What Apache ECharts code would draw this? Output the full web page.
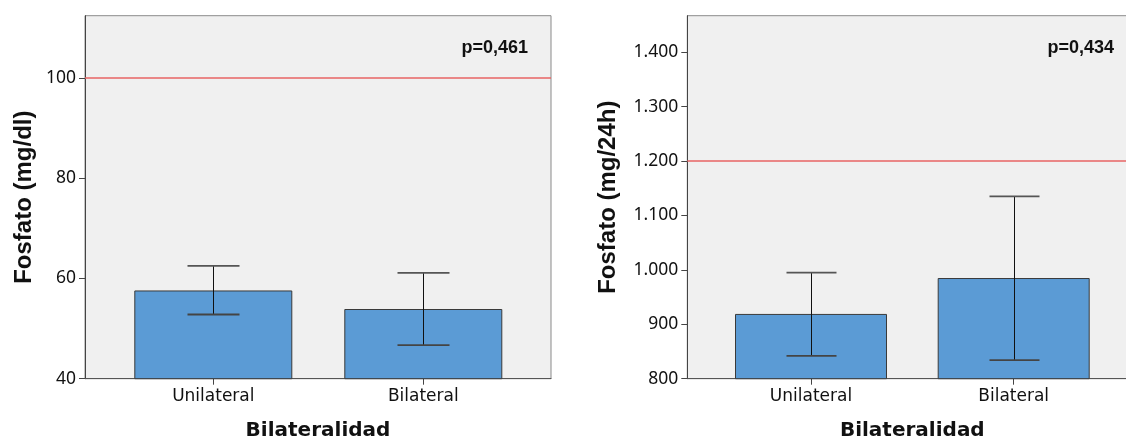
<!DOCTYPE html>
<html><head><meta charset="utf-8">
<script src="https://cdn.jsdelivr.net/npm/echarts@6/dist/echarts.min.js"></script>
<style>html,body{margin:0;padding:0;background:#fff}#c{width:1126px;height:444px}</style>
</head><body><div id="c"></div>
<script>
// ---- data ----
const categories = ['Unilateral', 'Bilateral'];
const meanSerum = [57.6, 53.9];
const lowSerum = [52.8, 46.7];
const highSerum = [62.5, 61.1];
const meanUrine = [919, 985];
const lowUrine = [842, 834];
const highUrine = [995, 1135];
const refSerum = [100];
const refUrine = [1200];
const ticksSerum = [40, 60, 80, 100];
const ticksUrine = [800, 900, 1000, 1100, 1200, 1300, 1400];
const pLabels = ['p=0,461', 'p=0,434'];
const yTitles = ['Fosfato (mg/dl)', 'Fosfato (mg/24h)'];
const xTitle = 'Bilateralidad';

// ---- styling ----
const BAR = '#5B9BD5';
const PLOT_BG = '#F0F0F0';
const TOP = 15.7, H = 363;

const chart = echarts.init(document.getElementById('c'), null, {renderer: 'canvas'});

function errItems(lo, hi) { return lo.map((v, i) => [i, v, hi[i]]); }
function makeErr(capHalf) {
  return function (params, api) {
    const x = api.value(0);
    const pLo = api.coord([x, api.value(1)]);
    const pHi = api.coord([x, api.value(2)]);
    const cx = Math.round(pLo[0]) + 0.5;
    return {
      type: 'group', children: [
        {type: 'line', shape: {x1: cx, y1: pLo[1], x2: cx, y2: pHi[1]}, style: {stroke: '#111', lineWidth: 1}},
        {type: 'line', shape: {x1: cx - capHalf, y1: pHi[1], x2: cx + capHalf, y2: pHi[1]}, style: {stroke: '#555', lineWidth: 1.8}},
        {type: 'line', shape: {x1: cx - capHalf, y1: pLo[1], x2: cx + capHalf, y2: pLo[1]}, style: {stroke: '#444', lineWidth: 1.8}}
      ]
    };
  };
}

function yLabelFmt(v) {
  return String(v).replace(/\B(?=(\d{3})+(?!\d))/g, '.');
}

function yAxisMain(grid, min, max, ticks, name, gap) {
  return {
    gridIndex: grid, type: 'value', min: min, max: max,
    axisLine: {show: true, lineStyle: {color: '#444', width: 1}},
    axisTick: {show: true, length: 6, lineStyle: {color: '#444'}, customValues: ticks},
    axisLabel: {show: true, margin: 9, color: '#111', fontFamily: 'Noto Sans', fontSize: 17.5, formatter: yLabelFmt, customValues: ticks},
    splitLine: {show: false},
    name: name, nameLocation: 'middle', nameRotate: 90, nameGap: gap,
    nameTextStyle: {fontFamily: 'Liberation Sans', fontWeight: 'bold', fontSize: 24, color: '#111'}
  };
}

function frameX(grid) {
  return {gridIndex: grid, type: 'value', min: 0, max: 1,
    axisLine: {show: true, onZero: false, lineStyle: {color: '#555'}}, axisTick: {show: false}, axisLabel: {show: false}, splitLine: {show: false},
    name: xTitle, nameLocation: 'middle', nameGap: 42,
    nameTextStyle: {fontFamily: 'DejaVu Sans', fontWeight: 'bold', fontSize: 20, color: '#111'}};
}
function catX(grid) {
  return {gridIndex: grid, type: 'category', data: categories, axisLine: {show: false},
    axisTick: {show: true, alignWithLabel: true, length: 6, lineStyle: {color: '#444'}},
    axisLabel: {margin: 9, color: '#111', fontFamily: 'DejaVu Sans', fontSize: 17}};
}
function refLine(xi, yi, vals) {
  return {type: 'line', xAxisIndex: xi, yAxisIndex: yi, data: [], silent: true,
    markLine: {symbol: 'none', silent: true, label: {show: false}, lineStyle: {color: '#E86464', width: 1.6, type: 'solid'}, data: vals.map(v => ({yAxis: v}))}};
}

const option = {
  animation: false,
  backgroundColor: '#fff',
  grid: [
    {left: 85, top: TOP, width: 466, height: H, show: true, backgroundColor: PLOT_BG, borderColor: '#8a8a8a', borderWidth: 1, outerBoundsMode: 'none', containLabel: false},
    {left: 108.3, top: TOP, width: 420, height: H, outerBoundsMode: 'none', containLabel: false},
    {left: 687.3, top: TOP, width: 450, height: H, show: true, backgroundColor: PLOT_BG, borderColor: '#8a8a8a', borderWidth: 1, outerBoundsMode: 'none', containLabel: false},
    {left: 709.65, top: TOP, width: 405.4, height: H, outerBoundsMode: 'none', containLabel: false}
  ],
  xAxis: [frameX(0), catX(1), frameX(2), catX(3)],
  yAxis: [
    yAxisMain(0, 40, 112.4, ticksSerum, yTitles[0], 49),
    {gridIndex: 1, type: 'value', min: 40, max: 112.4, show: false},
    yAxisMain(2, 800, 1467, ticksUrine, yTitles[1], 67),
    {gridIndex: 3, type: 'value', min: 800, max: 1467, show: false}
  ],
  series: [
    refLine(0, 0, refSerum),
    {type: 'bar', xAxisIndex: 1, yAxisIndex: 1, data: meanSerum, barWidth: 158,
      itemStyle: {color: BAR, borderColor: '#3a3a3a', borderWidth: 1}},
    {type: 'custom', xAxisIndex: 1, yAxisIndex: 1, data: errItems(lowSerum, highSerum), renderItem: makeErr(26), encode: {x: 0, y: [1, 2]}, z: 5},
    refLine(2, 2, refUrine),
    {type: 'bar', xAxisIndex: 3, yAxisIndex: 3, data: meanUrine, barWidth: 152,
      itemStyle: {color: BAR, borderColor: '#3a3a3a', borderWidth: 1}},
    {type: 'custom', xAxisIndex: 3, yAxisIndex: 3, data: errItems(lowUrine, highUrine), renderItem: makeErr(25), encode: {x: 0, y: [1, 2]}, z: 5}
  ],
  graphic: [
    {type: 'text', right: 1126 - 528, top: 39, style: {text: pLabels[0], fontFamily: 'Liberation Sans', fontWeight: 'bold', fontSize: 18, fill: '#111'}},
    {type: 'text', right: 1126 - 1114, top: 39, style: {text: pLabels[1], fontFamily: 'Liberation Sans', fontWeight: 'bold', fontSize: 18, fill: '#111'}}
  ]
};
chart.setOption(option);
</script>
</body></html>
